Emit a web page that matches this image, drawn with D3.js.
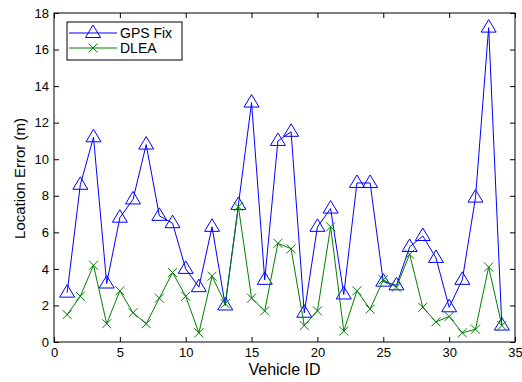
<!DOCTYPE html>
<html>
<head>
<meta charset="utf-8">
<script src="https://cdn.jsdelivr.net/npm/d3@7"></script>
<style>
  body { margin: 0; background: #fff; }
  svg { display: block; font-family: "Liberation Sans", Arial, sans-serif; }
</style>
</head>
<body>
<div id="chart"></div>
<script>
const vehicleIds = d3.range(1, 35);
const gpsFix = [2.7, 8.6, 11.2, 3.2, 6.8, 7.8, 10.8, 6.9, 6.5, 4.0,
  3.0, 6.3, 2.0, 7.5, 13.1, 3.4, 11.0, 11.5, 1.6, 6.3,
  7.3, 2.6, 8.7, 8.7, 3.3, 3.1, 5.2, 5.8, 4.6, 1.9,
  3.4, 7.9, 17.2, 0.9];
const dlea = [1.5, 2.5, 4.2, 1.0, 2.8, 1.6, 1.0, 2.4, 3.8, 2.5,
  0.5, 3.6, 2.1, 7.4, 2.4, 1.7, 5.4, 5.1, 0.9, 1.7,
  6.3, 0.6, 2.8, 1.8, 3.4, 3.0, 4.8, 1.9, 1.1, 1.4,
  0.5, 0.7, 4.1, 0.9];
const xTicks = [0, 5, 10, 15, 20, 25, 30, 35];
const yTicks = [0, 2, 4, 6, 8, 10, 12, 14, 16, 18];
const seriesNames = ["GPS Fix", "DLEA"];

const W = 522, H = 382;
const margin = { top: 13, right: 7, bottom: 40, left: 54 };
const w = W - margin.left - margin.right;
const h = H - margin.top - margin.bottom;

const svg = d3.select("#chart").append("svg")
  .attr("width", W)
  .attr("height", H);

const g = svg.append("g")
  .attr("transform", `translate(${margin.left}, ${margin.top})`);

const x = d3.scaleLinear().domain([0, 35]).range([0, w]);
const y = d3.scaleLinear().domain([0, 18]).range([h, 0]);

// axes, ticks pointing inward like matlab
const tickLen = 5;
g.append("g").attr("transform", `translate(0, ${h})`)
  .call(d3.axisBottom(x).tickValues(xTicks).tickSizeInner(-tickLen).tickSizeOuter(0).tickPadding(6));
g.append("g")
  .call(d3.axisLeft(y).tickValues(yTicks).tickSizeInner(-tickLen).tickSizeOuter(0).tickPadding(5));
g.append("g")
  .call(d3.axisTop(x).tickValues(xTicks).tickSizeInner(-tickLen).tickSizeOuter(0).tickFormat(""));
g.append("g").attr("transform", `translate(${w}, 0)`)
  .call(d3.axisRight(y).tickValues(yTicks).tickSizeInner(-tickLen).tickSizeOuter(0).tickFormat(""));

g.selectAll(".domain").remove();
g.selectAll(".tick line").attr("stroke", "#000");
g.selectAll(".tick text").attr("font-size", 13).attr("fill", "#000")
  .attr("font-family", "'Liberation Sans', Arial, sans-serif");

g.append("rect")
  .attr("width", w).attr("height", h)
  .attr("fill", "none").attr("stroke", "#000").attr("stroke-width", 1);

// labels
svg.append("text")
  .attr("x", margin.left + w / 2)
  .attr("y", 375)
  .attr("text-anchor", "middle")
  .attr("font-size", 16)
  .text("Vehicle ID");

svg.append("text")
  .attr("transform", `translate(25, ${margin.top + h / 2 + 1}) rotate(-90)`)
  .attr("text-anchor", "middle")
  .attr("font-size", 15)
  .text("Location Error (m)");

// markers
const triPath = "M0,-8L7.5,4.5L-7.5,4.5Z";
const crossPath = "M-4.5,-4.5L4.5,4.5M-4.5,4.5L4.5,-4.5";

const line = d3.line()
  .x((d, i) => x(vehicleIds[i]))
  .y(d => y(d));

// GPS fix
g.append("path")
  .datum(gpsFix)
  .attr("fill", "none")
  .attr("stroke", "#0000ff")
  .attr("stroke-width", 1)
  .attr("d", line);
g.selectAll(".tri").data(gpsFix).join("path")
  .attr("class", "tri")
  .attr("transform", (d, i) => `translate(${x(vehicleIds[i])}, ${y(d)})`)
  .attr("d", triPath)
  .attr("fill", "none")
  .attr("stroke", "#0000ff");

// DLEA
g.append("path")
  .datum(dlea)
  .attr("fill", "none")
  .attr("stroke", "#008000")
  .attr("stroke-width", 1)
  .attr("d", line);
g.selectAll(".crs").data(dlea).join("path")
  .attr("class", "crs")
  .attr("transform", (d, i) => `translate(${x(vehicleIds[i])}, ${y(d)})`)
  .attr("d", crossPath)
  .attr("fill", "none")
  .attr("stroke", "#008000");

// legend
const leg = g.append("g").attr("transform", "translate(13, 9)");
leg.append("rect")
  .attr("width", 115).attr("height", 38)
  .attr("fill", "#fff").attr("stroke", "#000");
const legColors = ["#0000ff", "#008000"];
const legMarks = [triPath, crossPath];
seriesNames.forEach((name, i) => {
  const ly = 11 + i * 15;
  leg.append("line")
    .attr("x1", 2).attr("x2", 50).attr("y1", ly).attr("y2", ly)
    .attr("stroke", legColors[i]);
  leg.append("path")
    .attr("transform", `translate(26, ${ly})`)
    .attr("d", legMarks[i])
    .attr("fill", "none")
    .attr("stroke", legColors[i]);
  leg.append("text")
    .attr("x", 53).attr("y", ly + 5)
    .attr("font-size", 14)
    .text(name);
});
</script>
</body>
</html>
